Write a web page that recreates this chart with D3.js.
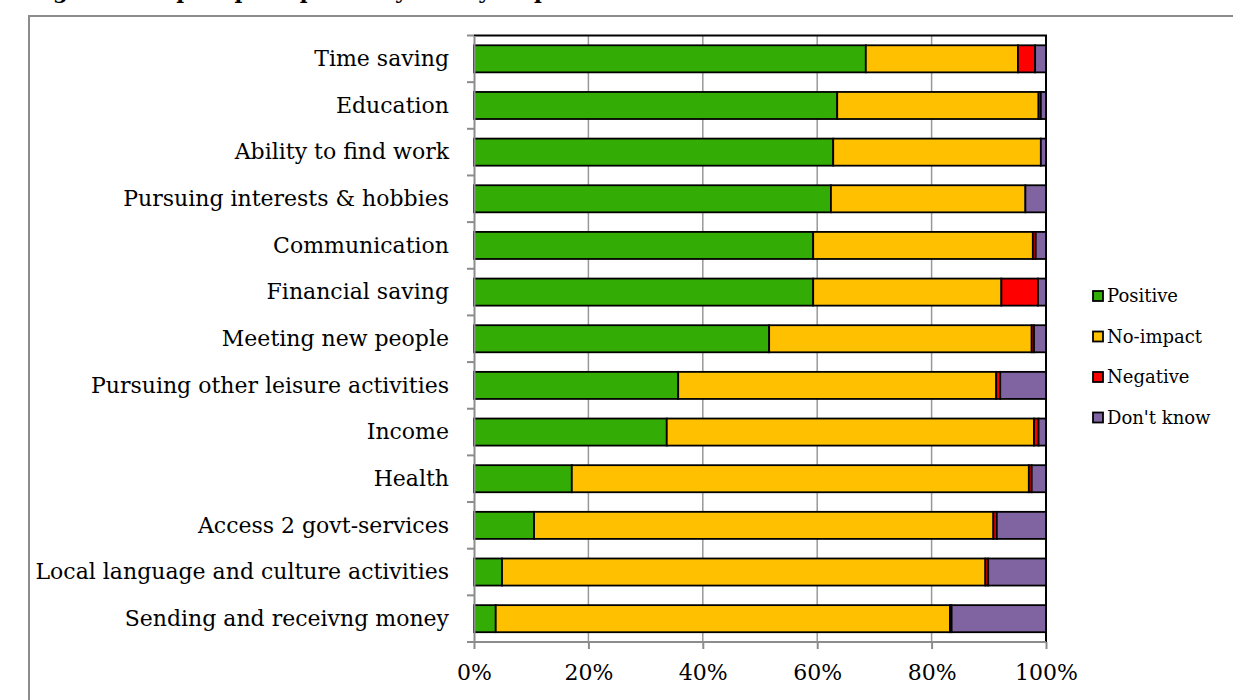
<!DOCTYPE html>
<html>
<head>
<meta charset="utf-8">
<script src="https://cdn.jsdelivr.net/npm/d3@7"></script>
<style>
  html, body { margin: 0; padding: 0; background: #fff; }
  svg { display: block; }
</style>
</head>
<body>
<svg id="chart" width="1233" height="700"></svg>
<script>
const categories = [
  "Time saving", "Education", "Ability to find work", "Pursuing interests & hobbies",
  "Communication", "Financial saving", "Meeting new people",
  "Pursuing other leisure activities", "Income", "Health",
  "Access 2 govt-services", "Local language and culture activities", "Sending and receivng money"
];
const seriesNames = ["Positive", "No-impact", "Negative", "Don't know"];
const positive  = [68.5, 63.5, 62.8, 62.4, 59.3, 59.3, 51.6, 35.7, 33.7, 17.1, 10.5, 4.9, 3.8];
const noImpact  = [26.6, 35.2, 36.3, 34.0, 38.4, 32.9, 45.9, 55.6, 64.2, 79.9, 80.3, 84.5, 79.4];
const negative  = [3.0, 0.4, 0.0, 0.0, 0.5, 6.4, 0.4, 0.7, 0.8, 0.5, 0.6, 0.5, 0.3];
const dontKnow  = [1.9, 0.9, 0.9, 3.6, 1.8, 1.4, 2.1, 8.0, 1.3, 2.5, 8.6, 10.1, 16.5];
const tickValues = [0, 0.2, 0.4, 0.6, 0.8, 1.0];
const colors = ["#33ad06", "#ffc000", "#ff0000", "#8064a2"];

const rows = categories.map((c, i) => {
  const vals = [positive[i], noImpact[i], negative[i], dontKnow[i]];
  const tot = d3.sum(vals);
  const r = { category: c };
  seriesNames.forEach((s, j) => r[s] = vals[j] / tot);
  return r;
});
const stacked = d3.stack().keys(seriesNames)(rows);

const svg = d3.select("#chart");
const serif = "'DejaVu Serif', 'Liberation Serif', serif";

// outer frame
svg.append("path")
  .attr("d", "M29,700 L29,16 L1233,16")
  .attr("fill", "none").attr("stroke", "#8c8c8c").attr("stroke-width", 2);

// title (cut off at the top edge, as in the reference)
svg.append("text")
  .attr("x", 30).attr("y", -1.5)
  .attr("font-family", serif).attr("font-weight", "bold").attr("font-size", 21)
  .text("Figure 4: Impact perceptions by survey respondents");

const pLeft = 474, pRight = 1046, pTop = 35.5, pBottom = 642;
const x = d3.scaleLinear().domain([0, 1]).range([pLeft, pRight]);
const y = d3.scaleBand().domain(categories).range([pTop, pBottom]).paddingInner(0.42).paddingOuter(0.21);

// gridlines
svg.append("g").selectAll("line").data(tickValues.slice(1, 5)).join("line")
  .attr("x1", d => x(d)).attr("x2", d => x(d))
  .attr("y1", pTop).attr("y2", pBottom)
  .attr("stroke", "#999").attr("stroke-width", 1.5);

// plot area border (top, right)
svg.append("path")
  .attr("d", `M${pLeft},${pTop} L${pRight},${pTop} L${pRight},${pBottom}`)
  .attr("fill", "none").attr("stroke", "#000").attr("stroke-width", 2);

// bars
svg.append("g").selectAll("g").data(stacked).join("g")
  .attr("fill", (d, i) => colors[i])
  .selectAll("rect").data(d => d).join("rect")
  .attr("x", d => x(d[0]))
  .attr("width", d => Math.max(0, x(d[1]) - x(d[0])))
  .attr("y", d => y(d.data.category))
  .attr("height", y.bandwidth())
  .attr("stroke", "#000").attr("stroke-width", 1.8);

// y axis
const yAxis = d3.axisLeft(y).tickSize(0).tickPadding(25);
const yg = svg.append("g").attr("transform", `translate(${pLeft},0)`).call(yAxis);
yg.select(".domain").attr("stroke", "#8c8c8c").attr("stroke-width", 2);
yg.selectAll("text").attr("font-family", serif).attr("font-size", 22).attr("fill", "#000").attr("dy", "0.33em");
// y tick marks at category boundaries
const bounds = d3.range(categories.length + 1).map(i => pTop + i * y.step());
svg.append("g").selectAll("line").data(bounds).join("line")
  .attr("x1", pLeft - 7).attr("x2", pLeft)
  .attr("y1", d => d).attr("y2", d => d)
  .attr("stroke", "#8c8c8c").attr("stroke-width", 2);

// x axis
const xAxis = d3.axisBottom(x).tickValues(tickValues).tickFormat(d3.format(".0%")).tickSize(7).tickPadding(15);
const xg = svg.append("g").attr("transform", `translate(0,${pBottom})`).call(xAxis);
xg.select(".domain").attr("stroke", "#8c8c8c").attr("stroke-width", 2).attr("d", `M${pLeft},0H${pRight}`);
xg.selectAll(".tick line").attr("stroke", "#8c8c8c").attr("stroke-width", 2);
xg.selectAll("text").attr("font-family", serif).attr("font-size", 22).attr("fill", "#000");

// legend
const lg = svg.append("g").attr("transform", "translate(1093,0)");
const legendY = [296, 336.5, 377, 417.5];
seriesNames.forEach((s, i) => {
  lg.append("rect").attr("x", 0).attr("y", legendY[i] - 5).attr("width", 10).attr("height", 10)
    .attr("fill", colors[i]).attr("stroke", "#000").attr("stroke-width", 1.8);
  lg.append("text").attr("x", 14).attr("y", legendY[i]).attr("dy", "0.35em")
    .attr("font-family", serif).attr("font-size", 18).text(s);
});
</script>
</body>
</html>
